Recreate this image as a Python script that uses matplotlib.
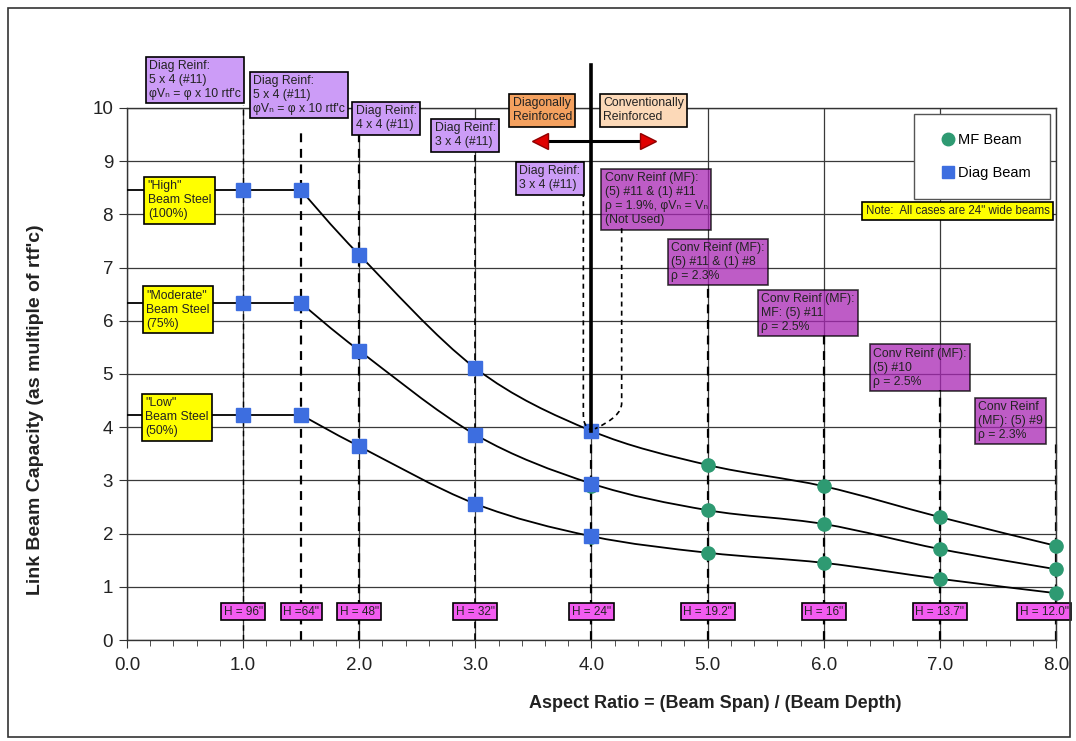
import matplotlib
matplotlib.use("Agg")
import matplotlib.pyplot as plt
from matplotlib.path import Path
from matplotlib.patches import PathPatch, Rectangle
from matplotlib.lines import Line2D
import numpy as np

plt.rcParams['font.family'] = ['Liberation Sans', 'DejaVu Sans']

# ---------------- data ----------------
aspect_diag = [1.0, 1.5, 2.0, 3.0, 4.0]
aspect_mf = [4.0, 5.0, 6.0, 7.0, 8.0]

high_diag = [8.45, 8.45, 7.24, 5.11, 3.93]
high_mf = [3.93, 3.29, 2.89, 2.31, 1.77]
mod_diag = [6.33, 6.33, 5.44, 3.86, 2.94]
mod_mf = [2.90, 2.44, 2.18, 1.71, 1.33]
low_diag = [4.23, 4.23, 3.64, 2.56, 1.95]
low_mf = [1.93, 1.64, 1.45, 1.15, 0.88]

depth_positions = [1.0, 1.5, 2.0, 3.0, 4.0, 5.0, 6.0, 7.0, 8.0]
depth_labels = ['H = 96"', 'H =64"', 'H = 48"', 'H = 32"', 'H = 24"',
                'H = 19.2"', 'H = 16"', 'H = 13.7"', 'H = 12.0"']

x_ticks = [0, 1, 2, 3, 4, 5, 6, 7, 8]
y_ticks = [0, 1, 2, 3, 4, 5, 6, 7, 8, 9, 10]

GREEN = '#2e9a72'
BLUE = '#3d6ee0'
LAV = '#cc9cf7'
MAG = '#a826b4'
HMAG = '#f25cf0'
YEL = '#ffff00'

fig = plt.figure(figsize=(10.76, 7.41), dpi=100)
ax = fig.add_axes([0.118, 0.1363, 0.8634, 0.718])
ax.set_xlim(0, 8)
ax.set_ylim(0, 10)

# grid
ax.set_xticks(x_ticks)
ax.set_xticklabels([f"{v:.1f}" for v in x_ticks])
ax.set_yticks(y_ticks)
ax.set_xticks(np.arange(0, 8.01, 0.2), minor=True)
ax.grid(True, which='major', color='#3a3a3a', lw=0.9, zorder=0)
ax.tick_params(axis='both', which='major', direction='out', length=6, labelsize=13.5,
               color='#333333', labelcolor='#222222')
ax.tick_params(axis='x', which='minor', direction='out', length=4, color='#333333')
ax.tick_params(axis='x', pad=6)
ax.tick_params(axis='y', pad=4)
for s in ax.spines.values():
    s.set_color('#333333')
    s.set_linewidth(1.0)
ax.set_axisbelow(True)


def smooth_path(xs, ys):
    pts = np.column_stack([xs, ys])
    n = len(pts)
    verts = [pts[0]]
    codes = [Path.MOVETO]
    for i in range(n - 1):
        p0 = pts[i - 1] if i > 0 else pts[i]
        p1 = pts[i]
        p2 = pts[i + 1]
        p3 = pts[i + 2] if i + 2 < n else pts[i + 1]
        c1 = p1 + (p2 - p0) / 6.0
        c2 = p2 - (p3 - p1) / 6.0
        verts += [c1, c2, p2]
        codes += [Path.CURVE4] * 3
    return Path(verts, codes)


for yd, ym in [(high_diag, high_mf), (mod_diag, mod_mf), (low_diag, low_mf)]:
    # flat portion from axis to aspect 1.5
    ax.plot([0, aspect_diag[0], aspect_diag[1]], [yd[0], yd[0], yd[1]],
            color='black', lw=1.3, zorder=3, solid_capstyle='butt')
    xs = aspect_diag[1:] + aspect_mf[1:]
    ys = yd[1:] + ym[1:]
    ax.add_patch(PathPatch(smooth_path(xs, ys), fill=False, ec='black', lw=1.3, zorder=3))
    ax.plot(aspect_mf, ym, 'o', color=GREEN, ms=9.5, zorder=4, clip_on=False)
    ax.plot(aspect_diag, yd, 's', color=BLUE, ms=9.5, zorder=5)

# vertical dashed lines up to annotation boxes
dash_tops = [10.06, 9.59, 9.55, 9.21, high_diag[-1], 6.71, 5.75, 4.70, 3.70]
dash_widths = [1.0, 1.6, 1.6, 1.2, 1.6, 1.6, 1.6, 1.6, 1.6]
for xv, top, w in zip(depth_positions, dash_tops, dash_widths):
    ax.plot([xv, xv], [0, top], color='black', lw=w, ls=(0, (4, 3)), zorder=2, clip_on=False)

# thick divider at aspect ratio 4
ax.plot([4.0, 4.0], [high_diag[-1], 10.8], color='black', lw=2.6, zorder=6, clip_on=False)

# dashed bracket pointing at divider point
lb = Path([(3.93, 8.42), (3.93, 4.25), (3.93, 4.0), (3.99, 3.96)],
          [Path.MOVETO, Path.LINETO, Path.CURVE3, Path.CURVE3])
rb = Path([(4.26, 7.74), (4.26, 4.45), (4.26, 4.2), (4.03, 3.97)],
          [Path.MOVETO, Path.LINETO, Path.CURVE3, Path.CURVE3])
for p in (lb, rb):
    ax.add_patch(PathPatch(p, fill=False, ec='black', lw=1.2, ls=(0, (3, 2.5)), zorder=6))

# double arrow
ax.plot([3.56, 4.49], [9.38, 9.38], color='black', lw=2.2, zorder=6, clip_on=False)
ax.plot([3.56], [9.38], marker='<', color='#e00000', ms=11, mec='#900000', zorder=7, clip_on=False)
ax.plot([4.49], [9.38], marker='>', color='#e00000', ms=11, mec='#900000', zorder=7, clip_on=False)

BOXFS = 8.8


def box(x, y, s, fc, alpha=1.0, fs=BOXFS, ha='left', va='top', z=8, ls=1.22):
    ax.text(x, y, s, fontsize=fs, ha=ha, va=va, zorder=z, linespacing=ls, clip_on=False,
            color='#222222',
            bbox=dict(boxstyle='square,pad=0.28', fc=fc, ec='black', lw=1.2, alpha=alpha))


phi_line = "\u03c6V\u2099 = \u03c6 x 10 rtf'c"
box(0.19, 10.90, "Diag Reinf:\n5 x 4 (#11)\n" + phi_line, LAV)
box(1.085, 10.62, "Diag Reinf:\n5 x 4 (#11)\n" + phi_line, LAV)
box(1.97, 10.05, "Diag Reinf:\n4 x 4 (#11)", LAV)
box(2.65, 9.73, "Diag Reinf:\n3 x 4 (#11)", LAV)
box(3.38, 8.92, "Diag Reinf:\n3 x 4 (#11)", LAV)
box(3.32, 10.20, "Diagonally\nReinforced", '#f4a15f')
box(4.10, 10.20, "Conventionally\nReinforced", '#fcd9b8')

box(4.115, 8.79, "Conv Reinf (MF):\n(5) #11 & (1) #11\n\u03c1 = 1.9%, \u03c6V\u2099 = V\u2099\n(Not Used)", MAG, alpha=0.75, z=1.5)
box(4.685, 7.48, "Conv Reinf (MF):\n(5) #11 & (1) #8\n\u03c1 = 2.3%", MAG, alpha=0.75, z=1.5)
box(5.46, 6.52, "Conv Reinf (MF):\nMF: (5) #11\n\u03c1 = 2.5%", MAG, alpha=0.75, z=1.5)
box(6.425, 5.49, "Conv Reinf (MF):\n(5) #10\n\u03c1 = 2.5%", MAG, alpha=0.75, z=1.5)
box(7.33, 4.49, "Conv Reinf\n(MF): (5) #9\n\u03c1 = 2.3%", MAG, alpha=0.75, z=1.5)

box(6.36, 8.18, "Note:  All cases are 24\" wide beams", YEL, fs=8.3)

box(0.18, 8.64, "\"High\"\nBeam Steel\n(100%)", YEL)
box(0.165, 6.58, "\"Moderate\"\nBeam Steel\n(75%)", YEL)
box(0.155, 4.56, "\"Low\"\nBeam Steel\n(50%)", YEL)

for i, (xv, lab) in enumerate(zip(depth_positions, depth_labels)):
    shift = -0.1 if i == len(depth_positions) - 1 else 0.0
    ax.text(xv + shift, 0.53, lab, fontsize=8.5, ha='center', va='center', zorder=8, color='#222222',
            bbox=dict(boxstyle='square,pad=0.22', fc=HMAG, ec='black', lw=1.2))

# legend
handles = [Line2D([], [], ls='none', marker='o', color=GREEN, ms=9),
           Line2D([], [], ls='none', marker='s', color=BLUE, ms=8)]
leg = ax.legend(handles, ['MF Beam', 'Diag Beam'], loc='upper right',
                bbox_to_anchor=(0.9935, 0.989), fontsize=10.5, frameon=True, fancybox=False,
                edgecolor='#555555', framealpha=1, labelspacing=1.3, handletextpad=-0.3,
                handlelength=2.0, borderpad=1.3, borderaxespad=0)
leg.set_zorder(9)

fig.text(0.665, 0.05, "Aspect Ratio = (Beam Span) / (Beam Depth)", ha='center', va='center',
         fontsize=13, fontweight='bold', color='#222222')
fig.text(0.033, 0.447, "Link Beam Capacity (as multiple of rtf'c)", ha='center', va='center',
         rotation=90, fontsize=14, fontweight='bold', color='#222222')

fig.add_artist(Rectangle((0.0074, 0.0054), 0.987, 0.9836, transform=fig.transFigure,
                         fill=False, ec='#333333', lw=1.2))

fig.savefig('out.png', dpi=100)
